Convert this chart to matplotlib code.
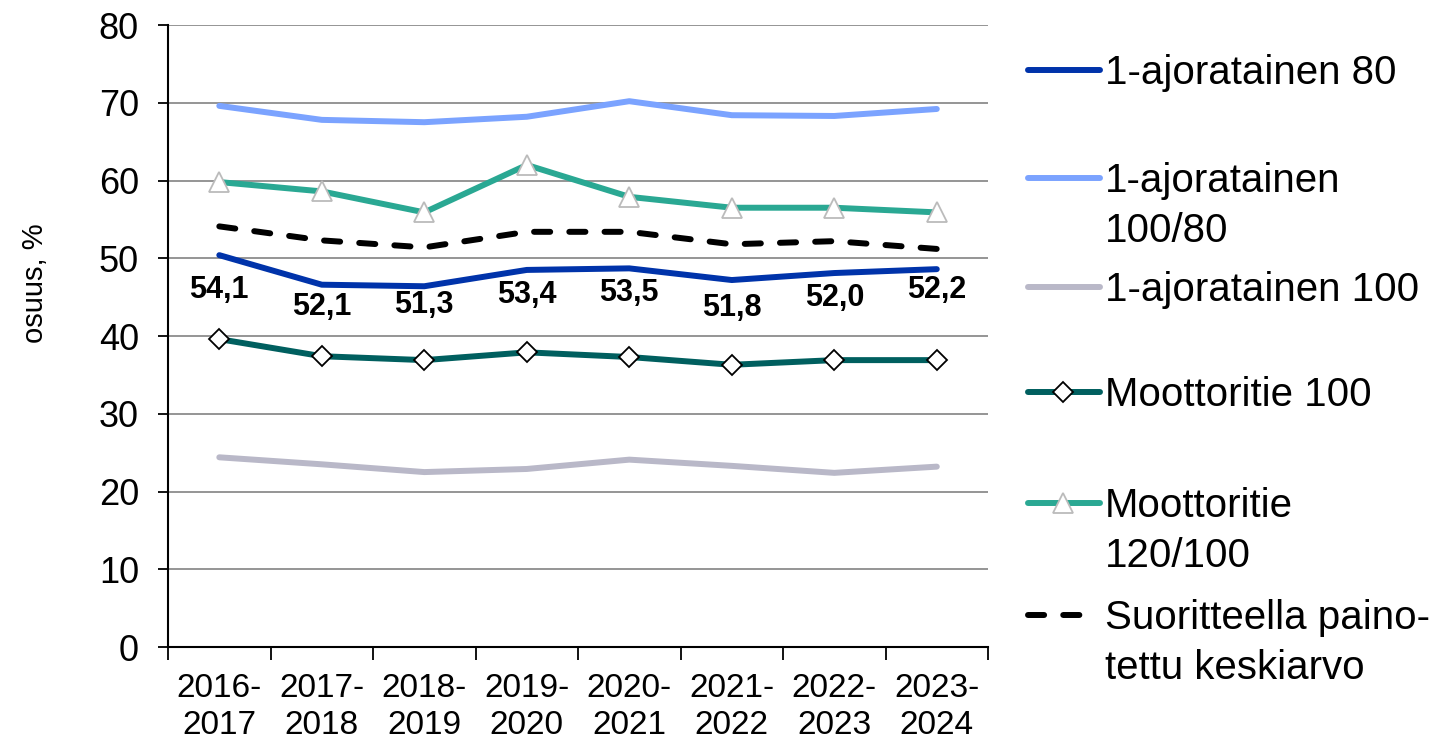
import matplotlib
matplotlib.use('Agg')
from matplotlib import pyplot as plt
from matplotlib.lines import Line2D
import numpy as np

plt.rcParams['font.family'] = ['Liberation Sans', 'DejaVu Sans']

# categories and series
periods = ['2016-\n2017', '2017-\n2018', '2018-\n2019', '2019-\n2020',
           '2020-\n2021', '2021-\n2022', '2022-\n2023', '2023-\n2024']
yks80 = [50.4, 46.6, 46.4, 48.5, 48.7, 47.2, 48.1, 48.6]
yks100_80 = [69.6, 67.8, 67.5, 68.2, 70.2, 68.4, 68.3, 69.2]
yks100 = [24.4, 23.5, 22.5, 22.9, 24.1, 23.3, 22.4, 23.2]
mt100 = [39.6, 37.4, 36.9, 37.9, 37.3, 36.3, 36.9, 36.9]
mt120_100 = [59.8, 58.6, 55.9, 62.0, 57.9, 56.5, 56.5, 55.9]
keskiarvo = [54.1, 52.3, 51.4, 53.4, 53.4, 51.8, 52.2, 51.2]
keskiarvo_labels = ['54,1', '52,1', '51,3', '53,4', '53,5', '51,8', '52,0', '52,2']
label_y = [45.9, 43.7, 44.0, 45.3, 45.5, 43.6, 44.9, 45.9]

x = np.arange(len(periods))

fig = plt.figure(figsize=(14.5, 7.42), dpi=100)
ax = fig.add_axes([0.1159, 0.128, 0.5655, 0.8383])

lw = 4.3
series = [
    ('1-ajoratainen 80', yks80, dict(color='#0033AA', lw=lw)),
    ('1-ajoratainen\n100/80', yks100_80, dict(color='#7BA3FF', lw=lw)),
    ('1-ajoratainen 100', yks100, dict(color='#B9B8C8', lw=lw)),
    ('Moottoritie 100', mt100, dict(color='#005F5F', lw=lw, marker='D', ms=10,
                                    mfc='white', mec='black', mew=1.3)),
    ('Moottoritie\n120/100', mt120_100, dict(color='#2AA893', lw=lw, marker='^', ms=14,
                                            mfc='white', mec='#BBBBBB', mew=1.3)),
    ('Suoritteella paino-\ntettu keskiarvo', keskiarvo, dict(color='black', lw=lw,
                                                             dashes=(2.7, 3.2))),
]

for name, vals, style in series:
    ax.plot(x, vals, solid_capstyle='round', dash_capstyle='round', zorder=3, **style)

for xi, txt, yl in zip(x, keskiarvo_labels, label_y):
    ax.text(xi, yl, txt, ha='center', va='center', fontsize=22, fontweight='bold', zorder=4)

ax.set_xlim(-0.5, len(periods) - 0.5)
ax.set_ylim(0, 80)
ax.set_yticks(range(0, 81, 10))
ax.yaxis.grid(True, color='#8C8C8C', lw=1.3)
ax.set_axisbelow(True)
ax.tick_params(axis='y', labelsize=26, length=7, width=1.3, pad=14)

ax.set_xticks(np.arange(-0.5, len(periods)), minor=False)
ax.set_xticklabels([])
ax.set_xticks(x, minor=True)
ax.set_xticklabels(periods, minor=True, fontsize=24, linespacing=1.25)
ax.tick_params(axis='x', which='major', length=9, width=1.3)
ax.tick_params(axis='x', which='minor', length=0, pad=19)

for s in ['top', 'right']:
    ax.spines[s].set_visible(False)
ax.spines['left'].set_linewidth(1.5)
ax.spines['bottom'].set_linewidth(1.5)
ax.set_ylabel('osuus, %', fontsize=21)
ax.yaxis.set_label_coords(-0.145, 0.585)

# legend drawn by hand so that the keys sit at the first text line
leg_y = [70, 178, 287, 392, 503, 615]
line_step = 50
for (name, vals, style), yy in zip(series, leg_y):
    yf = 1 - yy / 742
    st = dict(style)
    if 'dashes' in st:
        xs = [1028 / 1450, 1090 / 1450]
    else:
        xs = [1028 / 1450, 1100 / 1450]
    fig.add_artist(Line2D(xs, [yf, yf], transform=fig.transFigure,
                          solid_capstyle='round', dash_capstyle='round',
                          markevery=[], **st))
    if 'marker' in st:
        fig.add_artist(Line2D([1063 / 1450], [yf], transform=fig.transFigure, ls='none',
                              marker=st['marker'], ms=st['ms'], mfc=st['mfc'],
                              mec=st['mec'], mew=st['mew']))
    extra = name.count('\n') * line_step
    fig.text(1105 / 1450, yf - (14 + extra) / 742, name, fontsize=29, va='baseline',
             ha='left', linespacing=1.4, transform=fig.transFigure)

fig.savefig('out.png', dpi=100)
